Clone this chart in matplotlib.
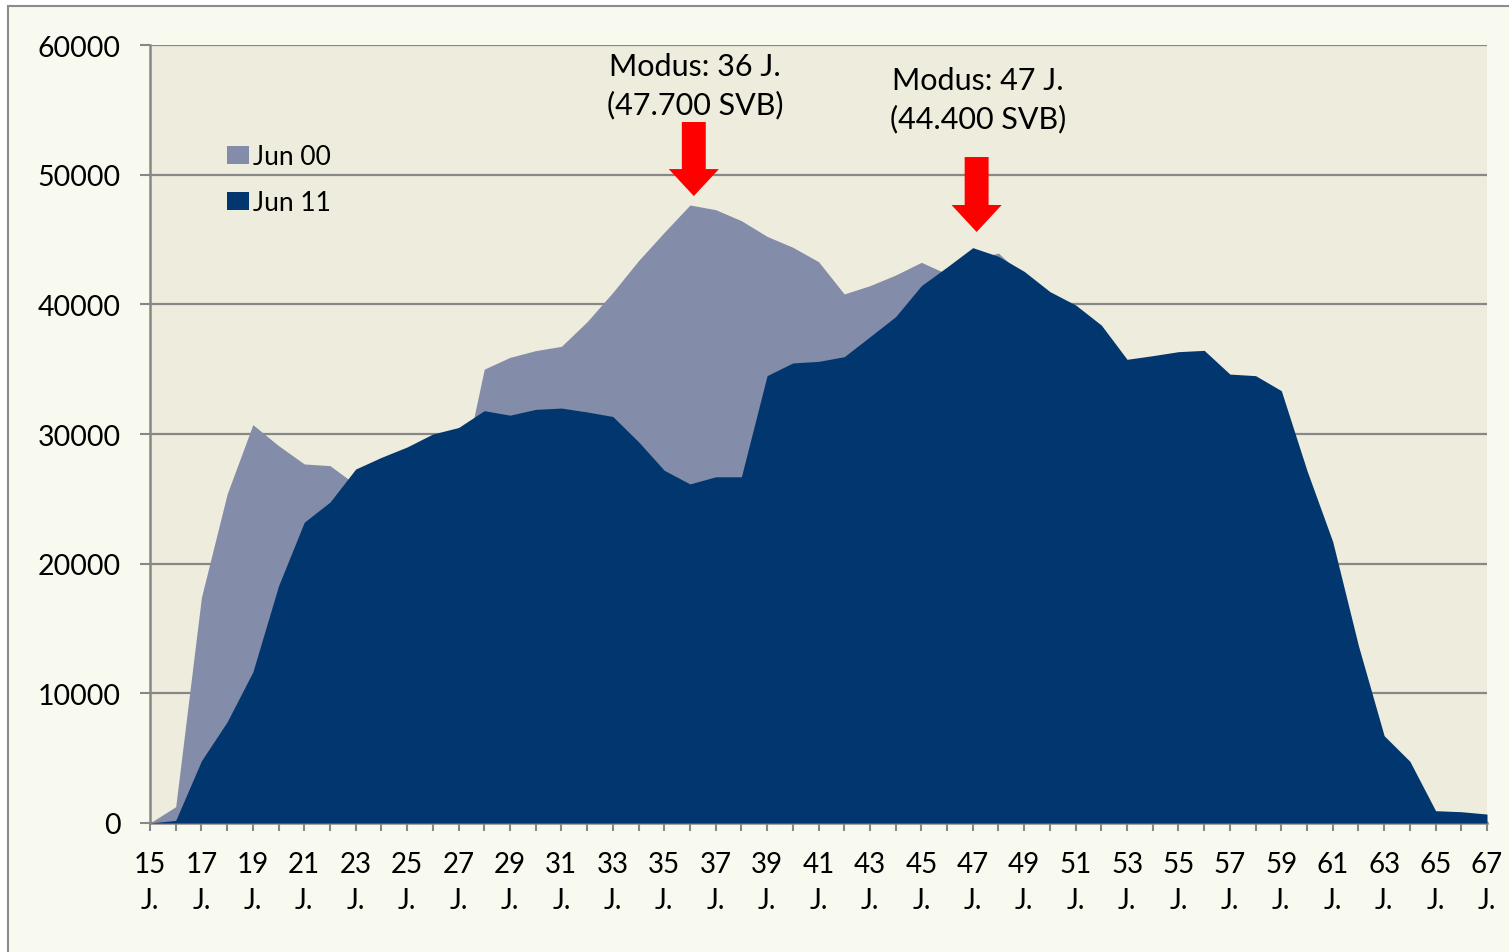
import matplotlib as mpl
mpl.use('Agg')
import matplotlib.pyplot as plt
from matplotlib.patches import Patch, FancyArrow, Rectangle
import numpy as np

plt.rcParams['font.family'] = ['Lato', 'DejaVu Sans']

# ages 15..67
ages = list(range(15, 68))

jun00 = [0, 1260, 17400, 25370, 30720, 29100, 27690, 27560, 26100, 26200,
         26400, 26300, 25700, 35000, 35910, 36430, 36760, 38660, 40920, 43370,
         45550, 47660, 47300, 46450, 45240, 44400, 43290, 40800, 41440, 42260,
         43240, 42340, 43500, 43950, 42100, 40000, 38500, 36500, 34000, 33000,
         32000, 31000, 29000, 27000, 24000, 18000, 12000, 6000, 3000, 1500,
         500, 300, 200]

jun11 = [0, 200, 4800, 7800, 11650, 18300, 23200, 24750, 27300, 28200,
         29000, 30000, 30500, 31800, 31450, 31900, 32000, 31700, 31350, 29400,
         27200, 26150, 26700, 26700, 34500, 35480, 35600, 35960, 37500, 39050,
         41440, 42880, 44370, 43700, 42540, 40980, 39950, 38400, 35760, 36040,
         36350, 36450, 34620, 34500, 33340, 27170, 21700, 13670, 6730, 4760,
         950, 870, 690]

labels = ['Jun 00', 'Jun 11']
colors = ['#838CA8', '#02366E']

modes = [(36, 'Modus: 36 J.\n(47.700 SVB)'), (47, 'Modus: 47 J.\n(44.400 SVB)')]

W, H = 1509, 953
fig = plt.figure(figsize=(W / 100, H / 100), dpi=100)
fig.patch.set_facecolor('white')
# outer chart frame
fig.patches.append(Rectangle((8 / W, -0.1), 1.2, 1 - 7 / H + 0.1,
                             transform=fig.transFigure, facecolor='#F8F9EF',
                             edgecolor='#8C8C8C', lw=1.5, zorder=-5))

ax = fig.add_axes([150 / W, 1 - 824 / H, (1487 - 150) / W, (824 - 46) / H])
ax.set_zorder(2)
ax.set_facecolor('#EEECDC')

ax.fill_between(ages, jun00, color=colors[0], lw=0, zorder=2)
ax.fill_between(ages, jun11, color=colors[1], lw=0, zorder=3)

ax.set_xlim(15, 67)
ax.set_ylim(0, 60000)
ax.set_yticks(np.arange(0, 60001, 10000))
ax.yaxis.grid(True, color='#878787', lw=1.6, zorder=1)
ax.set_axisbelow(True)

ax.set_xticks(ages[::2])
ax.set_xticklabels(['%d\nJ.' % a for a in ages[::2]], linespacing=1.5)
ax.set_xticks(ages[1::2], minor=True)
ax.tick_params(axis='x', which='both', length=6, width=1.5, color='#878787',
               pad=14, labelsize=20)
ax.tick_params(axis='y', length=7, width=1.5, color='#878787', pad=14,
               labelsize=20.5)

for s in ['top', 'right']:
    ax.spines[s].set_visible(False)
for s in ['left', 'bottom']:
    ax.spines[s].set_color('#878787')
    ax.spines[s].set_linewidth(1.8)

# mode annotations
tops = [54060, 51360]
tips = [48350, 45580]
text_y = [56920, 55840]
for (age, txt), t, tip, ty in zip(modes, tops, tips, text_y):
    ax.add_patch(FancyArrow(age + 0.15, t, 0, tip - t, width=0.93,
                            head_width=1.95, head_length=2080,
                            length_includes_head=True, color='#FF0000',
                            lw=0, zorder=5))
    ax.text(age + 0.2, ty, txt, ha='center', va='center', fontsize=22,
            linespacing=1.4, zorder=6)

handles = [Patch(facecolor=c, edgecolor='none') for c in colors]
ax.legend(handles, labels, loc='upper left', frameon=False, fontsize=19,
          bbox_to_anchor=(227 / W, 1 - 145 / H), bbox_transform=fig.transFigure,
          borderaxespad=0, borderpad=0, handlelength=0.85, handleheight=0.7,
          handletextpad=0.12, labelspacing=0.8)

plt.savefig('out.png', dpi=100)
